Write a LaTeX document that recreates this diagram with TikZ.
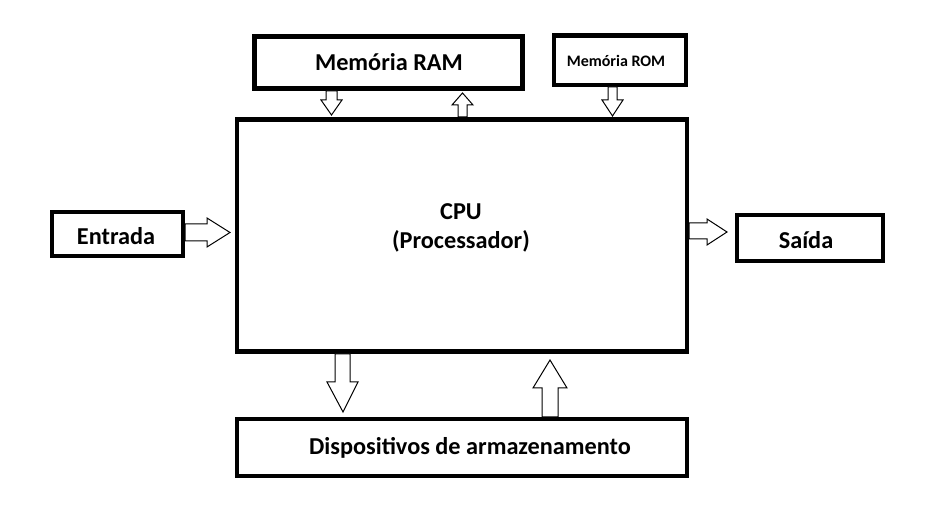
\documentclass[tikz,border=0pt]{standalone}
\usepackage{fontspec}
\setmainfont{Carlito}
\begin{document}
\begin{tikzpicture}[x=0.75pt,y=-0.75pt,
  box/.style={draw=black,line width=3.2pt,fill=white,inner sep=0pt,outer sep=0pt},
  lbl/.style={font=\bfseries\fontsize{18.2}{22}\selectfont},
  slbl/.style={font=\bfseries\fontsize{12}{14}\selectfont},
  barrow/.style={draw=black,line width=0.75pt,fill=white,line join=miter}]
\useasboundingbox[fill=white] (0,0) rectangle (926,530);
% boxes
\node[box,minimum width=201pt,minimum height=39pt] (rambox) at (388.5,62.5) {};
\node[box,minimum width=99pt,minimum height=37.1pt] (rombox) at (620,60.25) {};
\node[box,minimum width=337.5pt,minimum height=174pt] (cpubox) at (462,235.5) {};
\node[box,minimum width=98.25pt,minimum height=33pt] (inbox) at (117.5,234) {};
\node[box,minimum width=109.5pt,minimum height=34.5pt] (outbox) at (810,238) {};
\node[box,minimum width=337.5pt,minimum height=42.75pt] (stobox) at (462,447.5) {};
% labels
\node[lbl] (ram) at (389,62) {Memória RAM};
\node[slbl] (rom) at (616,61) {Memória ROM};
\node[lbl,align=center] (cpu) at (461,228) {CPU\\ (Processador)};
\node[lbl] (in) at (116,236) {Entrada};
\node[lbl] (out) at (806,240) {Saída};
\node[lbl] (sto) at (470,448) {Dispositivos de armazenamento};
% block arrows
% RAM -> CPU
\draw[barrow] (326,91) -- (337,91) -- (337,100) -- (342,100) -- (331.5,115) -- (321,100) -- (326,100) -- cycle;
% CPU -> RAM
\draw[barrow] (458,117) -- (467,117) -- (467,105) -- (473,105) -- (462.5,93) -- (452,105) -- (458,105) -- cycle;
% ROM -> CPU
\draw[barrow] (608,87) -- (617,87) -- (617,100) -- (623,100) -- (612.5,116) -- (602,100) -- (608,100) -- cycle;
% Entrada -> CPU
\draw[barrow] (185,224) -- (207,224) -- (207,218) -- (230,232.5) -- (207,247) -- (207,241) -- (185,241) -- cycle;
% CPU -> Saida
\draw[barrow] (689,223) -- (707,223) -- (707,219) -- (727,232) -- (707,245) -- (707,239) -- (689,239) -- cycle;
% CPU -> storage
\draw[barrow] (335,354) -- (350,354) -- (350,382) -- (358,382) -- (343,412) -- (327,382) -- (335,382) -- cycle;
% storage -> CPU
\draw[barrow] (542,417) -- (558,417) -- (558,388) -- (567,388) -- (550,360) -- (533,388) -- (542,388) -- cycle;
\end{tikzpicture}
\end{document}
